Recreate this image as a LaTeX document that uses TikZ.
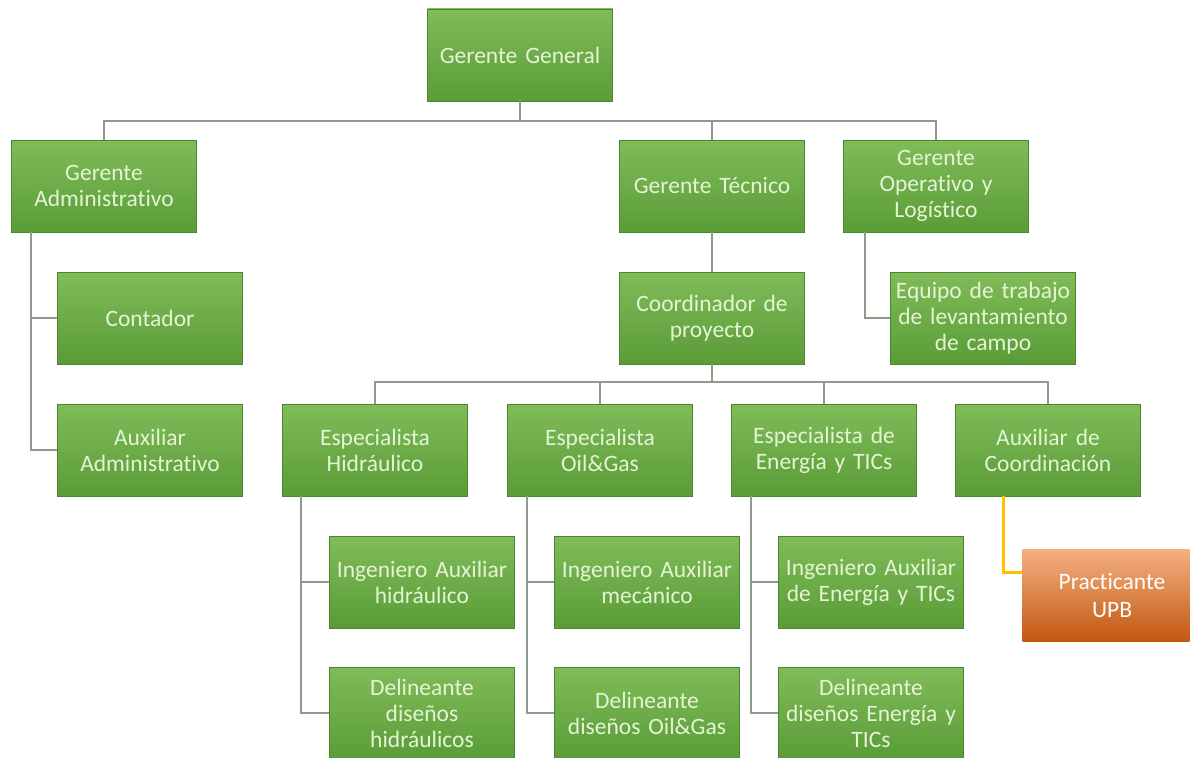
\documentclass[tikz,border=0pt]{standalone}
\usepackage{fontspec}
\setmainfont{Carlito}[Ligatures=NoCommon]
\usetikzlibrary{positioning}
\definecolor{greentop}{HTML}{80BC59}
\definecolor{greenbot}{HTML}{5A9C38}
\definecolor{greentext}{HTML}{E4F4D4}
\definecolor{orangetop}{HTML}{F4B183}
\definecolor{orangemid}{HTML}{EC7E33}
\definecolor{orangebot}{HTML}{C2570F}
\definecolor{linegray}{HTML}{8E9A8A}
\definecolor{lineyellow}{HTML}{FFC000}

\begin{document}
\begin{tikzpicture}[x=1pt, y=-1pt,
    box/.style={rectangle, top color=greentop, bottom color=greenbot,
        draw=greenbot!85!black, line width=0.3pt, text=greentext,
        minimum width=185pt, minimum height=92pt, text width=182pt,
        align=center, inner sep=0pt,
        font=\fontsize{23.5}{26}\selectfont},
    practbox/.style={box, top color=orangetop, middle color=orangemid,
        bottom color=orangebot, draw=none, text=white,
        minimum width=167pt, text width=160pt,
        font=\fontsize{23.5}{28}\selectfont},
    orgline/.style={draw=linegray, line width=2pt},
    praline/.style={draw=lineyellow, line width=3pt}]
    \useasboundingbox (0,0) rectangle (1190,757);

    % top levels
    \node[box] (gg) at (520, 55) {Gerente General};
    \node[box] (gadm) at (104, 186) {Gerente\\Administrativo};
    \node[box] (gtec) at (712, 186) {Gerente Técnico};
    \node[box] (gope) at (936, 186) {Gerente\\Operativo y\\Logístico};

    \node[box] (cont) at (150, 318) {Contador};
    \node[box] (auxadm) at (150, 450) {Auxiliar\\Administrativo};
    \node[box] (coord) at (712, 318) {Coordinador de\\proyecto};
    \node[box] (equipo) at (983, 318) {Equipo de trabajo\\de levantamiento\\de campo};

    % especialistas
    \node[box] (esph) at (375, 450) {Especialista\\Hidráulico};
    \node[box] (espo) at (600, 450) {Especialista\\Oil\&Gas};
    \node[box] (espe) at (824, 450) {Especialista de\\Energía y TICs};
    \node[box] (auxc) at (1048, 450) {Auxiliar de\\Coordinación};

    \node[box] (ingh) at (422, 582) {Ingeniero Auxiliar\\hidráulico};
    \node[box] (delh) at (422, 713) {Delineante\\diseños\\hidráulicos};
    \node[box] (ingo) at (647, 582) {Ingeniero Auxiliar\\mecánico};
    \node[box] (delo) at (647, 713) {Delineante\\diseños Oil\&Gas};
    \node[box] (inge) at (871, 582) {Ingeniero Auxiliar\\de Energía y TICs};
    \node[box] (dele) at (871, 713) {Delineante\\diseños Energía y\\TICs};

    \node[practbox] (prac) at (1106, 595) {\hspace*{12pt}Practicante\\\hspace*{12pt}UPB};

    % connectors
    \coordinate (ggbar) at ([yshift=-20pt]gg.south);
    \draw[orgline] (gg.south) -- (ggbar);
    \draw[orgline] (ggbar) -| (gadm.north);
    \draw[orgline] (ggbar) -| (gtec.north);
    \draw[orgline] (ggbar) -| (gope.north);

    \draw[orgline] ([xshift=20pt]gadm.south west) |- (cont.west);
    \draw[orgline] ([xshift=20pt]gadm.south west) |- (auxadm.west);
    \draw[orgline] (gtec.south) -- (coord.north);
    \draw[orgline] ([xshift=22pt]gope.south west) |- (equipo.west);

    \coordinate (cobar) at ([yshift=-18pt]coord.south);
    \draw[orgline] (coord.south) -- (cobar);
    \foreach \n in {esph, espo, espe, auxc}
        \draw[orgline] (cobar) -| (\n.north);

    \draw[orgline] ([xshift=19pt]esph.south west) |- (ingh.west);
    \draw[orgline] ([xshift=19pt]esph.south west) |- (delh.west);
    \draw[orgline] ([xshift=20pt]espo.south west) |- (ingo.west);
    \draw[orgline] ([xshift=20pt]espo.south west) |- (delo.west);
    \draw[orgline] ([xshift=20pt]espe.south west) |- (inge.west);
    \draw[orgline] ([xshift=20pt]espe.south west) |- (dele.west);

    \draw[praline] ([xshift=48pt]auxc.south west) |- ([yshift=23pt]prac.west);
\end{tikzpicture}
\end{document}
